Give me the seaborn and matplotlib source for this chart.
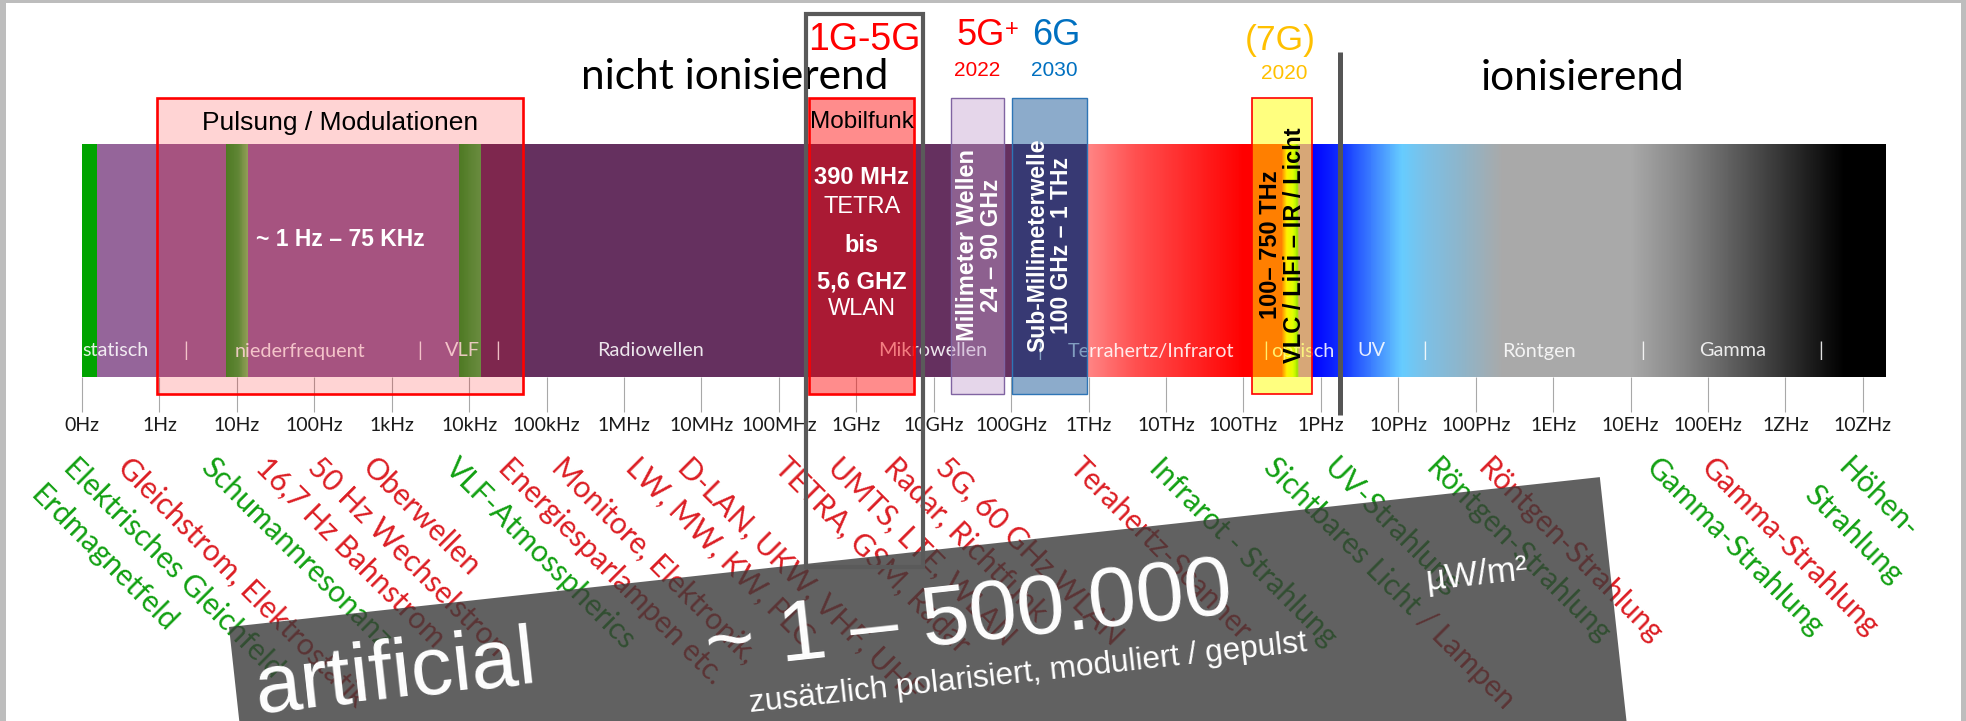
import numpy as np
import matplotlib
matplotlib.use("Agg")
import matplotlib.pyplot as plt
import seaborn as sns
from matplotlib.colors import LinearSegmentedColormap
from matplotlib.patches import Rectangle, Polygon

# ---------------------------------------------------------------- data
TICK_LABELS = ["0Hz", "1Hz", "10Hz", "100Hz", "1kHz", "10kHz", "100kHz", "1MHz",
               "10MHz", "100MHz", "1GHz", "10GHz", "100GHz", "1THz", "10THz",
               "100THz", "1PHz", "10PHz", "100PHz", "1EHz", "10EHz", "100EHz",
               "1ZHz", "10ZHz"]
SPECTRUM_END = 23.30          # right end of the spectrum bar (decade index)

# colour stops of the spectrum bar (decade index, colour)
STOP_POS = [0.00, 0.19, 0.19, 1.85, 1.85, 2.00, 2.14, 2.14, 4.86, 4.86, 5.14,
            5.14, 12.99, 12.99, 13.60, 15.00, 15.50, 15.56, 15.64, 15.70,
            15.73, 15.89, 15.89, 16.27, 17.05, 17.35, 17.85, 18.35, 20.00,
            20.70, 21.80, 22.76, SPECTRUM_END]
STOP_COL = ["#00A300", "#00A300", "#95659A", "#95659A", "#2A922A", "#3FA03F",
            "#7DBF6A", "#95659A", "#95659A", "#2A922A", "#4CA84C",
            "#65305F", "#65305F", "#FF8585", "#FF5050", "#FF0000", "#FF0000",
            "#FFE000", "#C0FF00", "#40D000", "#B050F0", "#B050F0", "#0000FF",
            "#1030FF", "#66CCFF", "#7CC0E6", "#8FB4C8", "#A9A9A9", "#A9A9A9",
            "#858585", "#3F3F3F", "#000000", "#000000"]

# names written inside the bar
BAND_NAMES = ["statisch", "|", "niederfrequent", "|", "VLF", "|", "Radiowellen",
              "Mikrowellen", "|", "Terrahertz/Infrarot", "|", "optisch", "UV",
              "|", "Röntgen", "|", "Gamma", "|"]
BAND_POS = [0.43, 1.34, 2.82, 4.36, 4.91, 5.37, 7.34, 10.99, 12.37, 13.81,
            15.29, 15.77, 16.65, 17.34, 18.82, 20.16, 21.32, 22.45]

# sources below the axis (text, colour key, decade where the label starts)
SRC_TEXT = ["Elektrisches Gleichfeld\nErdmagnetfeld", "Gleichstrom, Elektrostatik",
            "Schumannresonanz", "16,7 Hz Bahnstrom", "50 Hz Wechselstrom",
            "Oberwellen", "VLF-Atmosspherics", "Energiesparlampen etc.",
            "Monitore, Elektronik,", "LW, MW, KW, PLC", "D-LAN, UKW, VHF, UHF",
            "TETRA, GSM, Radar", "UMTS, LTE, WLAN", "Radar, Richtfunk",
            "5G, 60 GHz WLAN", "Terahertz-Scanner", "Infrarot - Strahlung",
            "Sichtbares Licht| / Lampen", "UV-Strahlung", "Röntgen-Strahlung",
            "Röntgen-Strahlung", "Gamma-Strahlung", "Gamma-Strahlung",
            "Höhen-\nStrahlung"]
SRC_KIND = ["nat", "art", "nat", "art", "art", "art", "nat", "art", "art", "art",
            "art", "art", "art", "art", "art", "art", "nat", "mix", "nat", "nat",
            "art", "nat", "art", "nat"]
SRC_POS = [-0.05, 0.65, 1.72, 2.43, 3.10, 3.81, 4.88, 5.57, 6.26, 7.21, 7.88,
           9.14, 9.82, 10.54, 11.21, 12.94, 13.97, 15.45, 16.22, 17.54, 18.21,
           20.39, 21.09, 22.86]

# highlighted frequency ranges (decade start, decade end)
PULS_RANGE = (0.97, 5.70)
MOBIL_RANGE = (9.39, 10.75)
MMW_RANGE = (11.22, 11.91)
SUBMM_RANGE = (12.01, 12.98)
VLC_RANGE = (15.11, 15.89)
G15_RANGE = (9.35, 10.86)
ION_BORDER = 16.25

MOBIL_LINES = ["390 MHz", "TETRA", "bis", "5,6 GHZ", "WLAN"]
MOBIL_BOLD = [True, False, True, True, False]

# ---------------------------------------------------------------- layout
sns.set_theme(style="white")
CAL = ["Lato", "DejaVu Sans"]
ARI = ["Liberation Sans", "DejaVu Sans"]
plt.rcParams["font.family"] = CAL

W, H = 1966, 721
PX0, PXD = 82.0, 77.43          # pixel of 0Hz, pixels per decade
X0, X1 = -PX0 / PXD, (W - PX0) / PXD

fig = plt.figure(figsize=(W / 100, H / 100), dpi=100, facecolor="white")
ax = fig.add_axes([0, 0, 1, 1], zorder=2)
ax.set_xlim(X0, X1)
ax.set_ylim(H, 0)
ax.set_axis_off()


def ffx(d):
    return (d - X0) / (X1 - X0)


def ffy(y):
    return 1 - y / H


def px2d(px):
    return (px - PX0) / PXD


BAR_TOP, BAR_BOT = 144, 377

# ---- spectrum bar (seaborn heatmap of the frequency axis)
ax_bar = fig.add_axes([ffx(0), ffy(BAR_BOT), ffx(SPECTRUM_END) - ffx(0),
                       ffy(BAR_TOP) - ffy(BAR_BOT)], zorder=0)
grid = np.linspace(0, SPECTRUM_END, 1900)[None, :]
cmap = LinearSegmentedColormap.from_list(
    "spectrum", list(zip(np.array(STOP_POS) / SPECTRUM_END, STOP_COL)), N=4096)
sns.heatmap(grid, cmap=cmap, vmin=0, vmax=SPECTRUM_END, cbar=False,
            xticklabels=False, yticklabels=False, ax=ax_bar, rasterized=True)
ax_bar.set_axis_off()

# ---- frequency ticks
ax_t = fig.add_axes([0, ffy(BAR_BOT), 1, 1e-5], zorder=1)
ax_t.set_xlim(X0, X1)
ax_t.set_xticks(range(len(TICK_LABELS)))
ax_t.set_xticklabels(TICK_LABELS, fontsize=14, family=CAL)
ax_t.tick_params(axis="x", bottom=True, direction="out", length=25, width=0.8,
                 color="#A8A8A8", pad=4, labelcolor="#1A1A1A")
ax_t.set_yticks([])
for s in ax_t.spines.values():
    s.set_visible(False)
ax_t.patch.set_alpha(0)

# ---- band names inside the bar
for name, pos in zip(BAND_NAMES, BAND_POS):
    ax.text(pos, 351, name, ha="center", va="center", fontsize=14.3,
            color="white", alpha=0.88, family=CAL, zorder=2)

# ---- overlay boxes
def box(rng, face, alpha, edge, lw):
    ax.add_patch(Rectangle((rng[0], 98), rng[1] - rng[0], 296, facecolor=face,
                           alpha=alpha, edgecolor="none", zorder=3))
    ax.add_patch(Rectangle((rng[0], 98), rng[1] - rng[0], 296, fill=False,
                           edgecolor=edge, lw=lw, zorder=3.2))


box(PULS_RANGE, "#FF0000", 0.17, "#FF0000", 1.9)
box(MOBIL_RANGE, "#FF0000", 0.45, "#FF0000", 1.9)
box(MMW_RANGE, "#C3A0CF", 0.43, "#8064A2", 1.0)
box(SUBMM_RANGE, "#00468C", 0.45, "#2E75B6", 1.0)
box(VLC_RANGE, "#FFFF00", 0.5, "#FF0000", 1.2)

mid = lambda r: (r[0] + r[1]) / 2
ax.text(mid(PULS_RANGE), 123, "Pulsung / Modulationen", ha="center", va="center",
        fontsize=19, family=ARI, color="black", zorder=4)
ax.text(mid(PULS_RANGE), 240, "~ 1 Hz – 75 KHz", ha="center", va="center",
        fontsize=16.5, family=ARI, weight="bold", color="white", zorder=4)
ax.text(mid(MOBIL_RANGE), 122, "Mobilfunk", ha="center", va="center",
        fontsize=17.5, family=ARI, color="black", zorder=4)
for line, bold, yy in zip(MOBIL_LINES, MOBIL_BOLD, [178, 207, 245, 282, 309]):
    ax.text(mid(MOBIL_RANGE), yy, line, ha="center", va="center", fontsize=17,
            family=ARI, weight="bold" if bold else "normal", color="white",
            zorder=4)
ax.text(mid(MMW_RANGE) + 0.03, 245, "Millimeter Wellen\n24 – 90 GHz",
        rotation=90, ha="center", va="center", multialignment="center",
        fontsize=17, family=ARI, weight="bold", color="white", linespacing=1.05,
        zorder=4)
ax.text(mid(SUBMM_RANGE), 245, "Sub-Millimeterwelle\n100 GHz – 1 THz",
        rotation=90, ha="center", va="center", multialignment="center",
        fontsize=16.5, family=ARI, weight="bold", color="white", linespacing=1.05,
        zorder=4)
ax.text(mid(VLC_RANGE), 245, "100– 750 THz\nVLC / LiFi – IR / Licht",
        rotation=90, ha="center", va="center", multialignment="center",
        fontsize=17, family=ARI, weight="bold", color="black", linespacing=1.05,
        zorder=4)

# ---- headings
ax.text(px2d(734.5), 89, "nicht ionisierend", ha="center", va="baseline",
        fontsize=30.5, family=CAL, color="black", zorder=4)
ax.text(px2d(1582.5), 90, "ionisierend", ha="center", va="baseline",
        fontsize=30.5, family=CAL, color="black", zorder=4)
ax.text(mid(G15_RANGE), 50, "1G-5G", ha="center", va="baseline", fontsize=27,
        family=ARI, color="#FF0000", zorder=4)
ax.text(px2d(957), 45, "5G", ha="left", va="baseline", fontsize=26, family=ARI,
        color="#FF0000", zorder=4)
ax.text(px2d(1005), 36, "+", ha="left", va="baseline", fontsize=17, family=ARI,
        color="#FF0000", zorder=4)
ax.text(mid(MMW_RANGE), 76, "2022", ha="center", va="baseline", fontsize=15,
        family=ARI, color="#FF0000", zorder=4)
ax.text(mid(SUBMM_RANGE) + 0.09, 45, "6G", ha="center", va="baseline",
        fontsize=26, family=ARI, color="#0070C0", zorder=4)
ax.text(mid(SUBMM_RANGE) + 0.06, 76, "2030", ha="center", va="baseline",
        fontsize=15, family=ARI, color="#0070C0", zorder=4)
ax.text(mid(VLC_RANGE) - 0.02, 50, "(7G)", ha="center", va="baseline",
        fontsize=25.5, family=ARI, color="#FFC000", zorder=4)
ax.text(mid(VLC_RANGE) + 0.03, 79, "2020", ha="center", va="baseline",
        fontsize=15, family=ARI, color="#FFC000", zorder=4)

# ---- source labels (rotated 45 degrees)
KIND_COL = {"nat": "#12A012", "art": "#DC1E24"}
SRC_FS = 21.5
LINE_STEP = 36.0                       # pixel distance between lines
C45 = np.cos(np.deg2rad(45))
renderer = fig.canvas.get_renderer()


def text_width(s):
    t = ax.text(0, 0, s, fontsize=SRC_FS, family=CAL)
    w = t.get_window_extent(renderer).width
    t.remove()
    return w


def rot_text(px_x, px_y, s, color):
    ax.text(px2d(px_x), px_y, s, rotation=-45, rotation_mode="anchor",
            ha="left", va="top", fontsize=SRC_FS, family=CAL, color=color,
            zorder=3.5)


for txt, kind, pos in zip(SRC_TEXT, SRC_KIND, SRC_POS):
    x0 = PX0 + pos * PXD
    y0 = 453.0
    if kind == "mix":
        first, second = txt.split("|")
        rot_text(x0, y0, first, KIND_COL["nat"])
        adv = text_width(first + "x") - text_width("x")
        rot_text(x0 + adv * C45, y0 + adv * C45, second, KIND_COL["art"])
        continue
    for i, line in enumerate(txt.split("\n")):
        rot_text(x0 - i * LINE_STEP * C45 - (8 if i else 0),
                 y0 + i * LINE_STEP * C45 + (2 if i else 0), line,
                 KIND_COL[kind])

# ---- dark banner
ANG = np.deg2rad(6.24)
tl = np.array([229.0, 627.0])
tr = tl + 1379 * np.array([np.cos(ANG), -np.sin(ANG)])
dn = 330 * np.array([np.sin(ANG), np.cos(ANG)])
poly = [(px2d(p[0]), p[1]) for p in (tl, tr, tr + dn, tl + dn)]
ax.add_patch(Polygon(poly, closed=True, facecolor="#3A3A3A", alpha=0.8,
                     edgecolor="none", zorder=5))
rot = np.rad2deg(ANG)
bkw = dict(rotation=rot, rotation_mode="anchor", ha="left", va="baseline",
           family=ARI, color="white", zorder=6)
ax.text(px2d(257), 713, "artificial", fontsize=60, **bkw)
ax.text(px2d(708), 670, "~ 1 – 500.000", fontsize=62, **bkw)
ax.text(px2d(750), 712, "zusätzlich polarisiert, moduliert / gepulst",
        fontsize=22.8, **bkw)
ax.text(px2d(1427), 590, "µW/m²", fontsize=25, **bkw)

# ---- 1G-5G outline and ionising border
ax.add_patch(Rectangle((G15_RANGE[0], 14), G15_RANGE[1] - G15_RANGE[0], 553,
                       fill=False, edgecolor="#5A5A5A", lw=3, zorder=7))
ax.plot([ION_BORDER, ION_BORDER], [52, 415], color="#555555", lw=3.6,
        solid_capstyle="butt", zorder=7)

# ---- grey frame of the slide
for rect in [(0, 0, 6 / W, 1), (0, 1 - 3 / H, 1, 3 / H), (1 - 5 / W, 0, 5 / W, 1)]:
    fig.add_artist(Rectangle(rect[:2], rect[2], rect[3], transform=fig.transFigure,
                             facecolor="#BDBDBD", edgecolor="none", zorder=10))

fig.savefig("out.png", dpi=100, facecolor="white")
